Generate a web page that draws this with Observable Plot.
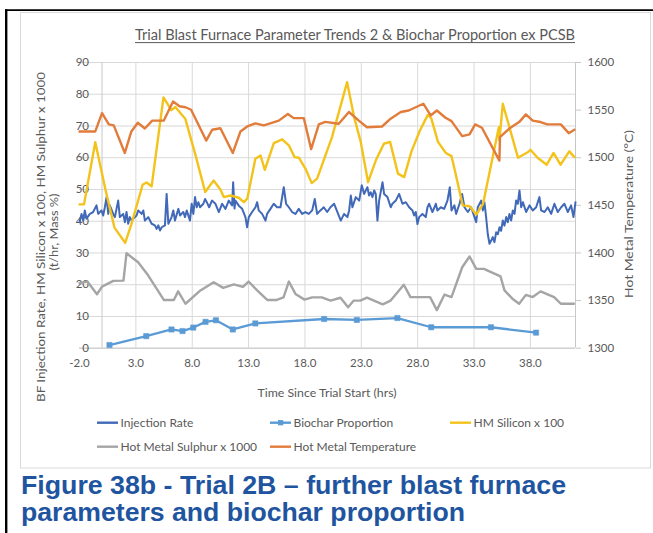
<!DOCTYPE html>
<html>
<head>
<meta charset="utf-8">
<script src="https://cdn.jsdelivr.net/npm/d3@7"></script>
<script src="https://cdn.jsdelivr.net/npm/@observablehq/plot@0.6"></script>
<style>
  html, body { margin: 0; padding: 0; background: #fff; }
  #page { position: relative; width: 653px; height: 533px; overflow: hidden; }
  #page svg { position: absolute; left: 0; top: 0; }
</style>
</head>
<body>
<div id="page"></div>
<script>
// ---- tick values ----
const rateTicks = [0, 10, 20, 30, 40, 50, 60, 70, 80, 90];
const tempTicks = [1300, 1350, 1400, 1450, 1500, 1550, 1600];
const timeTicks = [-2, 3, 8, 13, 18, 23, 28, 33, 38];

// ---- series: [hours since trial start, value] ----
const injectionRate = [
  [-2,39.7],[-1.82,42.3],[-1.67,40.2],[-1.53,43.4],[-1.38,40.8],[-1.08,42.3],[-0.79,42.9],[-0.49,45.0],[-0.34,42.3],[-0.05,43.4],
  [0.10,41.8],[0.25,44.4],[0.40,47.6],[0.55,42.3],[0.69,45.0],[0.99,42.3],[1.14,41.3],[1.43,46.5],[1.58,41.3],[1.88,42.3],
  [2.03,39.7],[2.17,42.9],[2.32,39.2],[2.47,41.3],[2.62,40.2],[2.77,40.8],[3.06,41.8],[3.21,43.4],[3.51,42.3],[3.66,43.4],
  [3.80,40.2],[4.10,41.3],[4.40,39.2],[4.69,38.7],[4.84,37.6],[4.99,38.7],[5.14,37.1],[5.29,38.1],[5.58,38.7],[5.73,48.6],
  [5.88,39.2],[6.17,41.3],[6.32,43.4],[6.47,40.2],[6.77,43.9],[6.92,41.8],[7.21,42.9],[7.36,41.3],[7.51,43.4],[7.80,40.2],
  [7.95,45.5],[8.10,42.3],[8.25,47.6],[8.40,44.4],[8.54,46.0],[8.69,44.4],[8.99,45.5],[9.14,47.0],[9.29,46.0],[9.50,44.4],
  [9.75,46.5],[10.06,45.5],[10.36,42.9],[10.65,45.5],[10.95,43.9],[11.24,46.5],[11.54,45.0],[11.63,52.3],[11.75,44.0],[11.83,46.5],
  [12.13,44.9],[12.43,43.9],[12.72,41.3],[12.87,38.1],[13.02,41.3],[13.31,42.9],[13.61,44.4],[13.76,46.0],[13.90,43.4],[14.20,42.3],
  [14.50,40.2],[14.64,42.3],[14.94,43.9],[15.23,45.5],[15.53,44.4],[15.83,44.4],[16.12,50.7],[16.33,45.5],[16.57,44.4],[16.86,42.9],
  [17.16,42.3],[17.45,43.9],[17.75,42.3],[18.04,42.9],[18.34,42.3],[18.64,43.4],[18.87,47.0],[19.08,42.3],[19.37,43.4],[19.67,44.4],
  [19.97,42.9],[20.26,44.4],[20.59,45.5],[20.88,42.9],[21.18,40.2],[21.47,42.3],[21.77,41.3],[21.92,43.4],[22.07,48.1],[22.21,44.4],
  [22.51,47.6],[22.81,46.5],[23.04,51.3],[23.25,48.6],[23.40,49.7],[23.54,50.7],[23.69,48.1],[23.84,49.1],[23.99,47.6],[24.14,49.7],
  [24.28,48.6],[24.43,40.2],[24.58,46.5],[24.88,52.3],[25.02,48.6],[25.32,47.6],[25.61,44.4],[25.76,45.5],[26.06,46.5],[26.35,48.6],
  [26.65,45.5],[26.95,46.0],[27.24,44.4],[27.54,43.4],[27.68,41.8],[27.83,42.9],[27.98,39.1],[28.13,41.3],[28.42,42.3],[28.72,41.3],
  [28.87,44.4],[29.02,45.5],[29.31,42.9],[29.61,45.5],[29.75,43.4],[30.05,44.4],[30.35,43.9],[30.64,46.5],[30.85,50.7],[31.00,43.4],
  [31.26,45.0],[31.41,42.3],[31.71,45.5],[31.94,48.6],[32.15,44.4],[32.45,42.9],[32.74,44.4],[33.04,41.3],[33.19,39.7],[33.33,44.4],
  [33.63,46.5],[33.78,43.4],[33.92,46.0],[34.07,41.3],[34.22,35.9],[34.37,32.9],[34.52,33.9],[34.66,35.0],[34.81,33.4],[34.96,36.5],
  [35.11,35.9],[35.26,38.1],[35.40,37.0],[35.55,40.2],[35.70,38.6],[35.85,41.3],[35.99,39.7],[36.14,42.3],[36.29,40.2],[36.44,43.4],
  [36.59,42.3],[36.73,46.5],[36.88,45.5],[37.03,49.7],[37.18,44.4],[37.33,46.0],[37.62,42.9],[37.92,45.0],[38.21,43.4],[38.51,44.4],
  [38.80,47.6],[38.95,43.4],[39.25,42.9],[39.54,44.4],[39.84,42.3],[40.13,45.5],[40.43,42.9],[40.73,44.4],[41.02,45.5],[41.32,42.9],
  [41.61,45.0],[41.82,41.3],[42.00,46.0]
];

const biocharProportion = [
  [0.66,1.0],[3.92,3.8],[6.16,5.9],[7.14,5.4],[8.09,6.5],[9.18,8.3],[10.1,8.8],[11.6,5.9],
  [13.6,7.8],[19.7,9.2],[22.6,8.9],[26.2,9.5],[29.2,6.6],[34.5,6.6],[38.5,4.9]
];

const hmSilicon = [
  [-2,45.3],[-1.6,45.3],[-0.6,64.9],[0.3,50.0],[1.1,38.0],[2.05,33.2],[2.6,39.0],[3.6,51.5],[3.95,52.2],[4.4,51.0],
  [5.45,79.0],[6.15,75.0],[6.5,76.0],[7.38,72.3],[8.26,61.2],[9.15,49.2],[9.89,52.8],[10.5,50.0],[10.8,47.6],[11.4,48.1],
  [12.13,47.4],[12.58,46.0],[12.88,47.1],[13.6,59.7],[14.06,60.7],[14.44,56.2],[15.24,64.6],[15.98,65.8],[16.57,63.9],[17.07,60.2],
  [17.46,60.0],[18.05,56.5],[18.6,52.0],[19.08,53.4],[20.4,66.5],[21.74,83.8],[22.36,72.8],[22.95,65.0],[23.6,52.3],[24.28,59.1],
  [25.0,64.4],[25.55,65.0],[26.25,55.0],[26.8,53.9],[27.45,62.0],[28.2,68.6],[28.9,73.5],[29.2,72.5],[29.8,65.0],[30.5,61.5],
  [31.0,60.5],[31.3,56.0],[31.8,48.0],[32.0,45.0],[32.6,44.7],[33.2,42.1],[33.8,45.5],[35.2,69.6],[35.25,65.5],[35.55,77.0],
  [36.9,60.0],[37.8,61.8],[38.0,62.5],[38.66,59.9],[39.45,57.8],[40.05,61.5],[40.67,57.8],[41.45,62.0],[41.9,60.2]
];

const hmSulphur = [
  [-2,20.5],[-1.3,21.0],[-0.45,17.0],[0.0,19.4],[1.0,21.2],[1.9,21.3],[2.17,29.9],[3.2,27.1],[4.0,23.4],[5.48,15.2],
  [6.37,15.2],[6.75,17.9],[7.4,14.0],[8.73,18.2],[9.9,20.8],[10.75,19.0],[11.69,20.1],[12.5,19.3],[13.0,21.0],[13.76,18.2],
  [14.65,15.2],[15.5,15.2],[16.1,16.0],[16.57,21.0],[17.16,17.1],[17.96,15.3],[18.64,16.0],[19.5,16.0],[20.27,15.0],[21.15,15.9],
  [21.83,12.9],[22.33,15.0],[22.9,15.0],[23.5,15.9],[24.9,13.8],[25.6,15.0],[26.77,20.0],[27.36,16.1],[29.1,16.1],[29.7,12.0],
  [30.38,16.9],[31.0,16.1],[31.95,25.5],[32.6,28.9],[33.2,25.0],[33.87,25.0],[35.35,22.6],[35.7,18.2],[36.4,15.6],[37.0,14.0],
  [37.6,16.8],[38.2,16.1],[38.9,17.9],[40.1,16.1],[40.7,14.0],[41.85,14.0]
];

const hmTemperature = [
  [-2,1527.6],[-0.6,1527.6],[0.0,1546.8],[0.6,1535],[1.04,1534],[2.02,1505],[2.6,1527.6],[3.17,1536.7],[3.8,1530.7],[4.45,1539],
  [5.48,1539],[6.3,1559],[6.87,1554],[7.4,1553],[7.9,1550.4],[9.24,1518],[9.77,1529.4],[10.5,1531],[11.6,1505],[12.28,1527.6],
  [12.88,1532.8],[13.6,1536],[14.35,1534],[15.68,1539],[16.48,1546],[17.0,1541.6],[17.9,1541.6],[18.55,1509],[19.23,1535],[19.8,1537.7],
  [21.0,1535.7],[21.9,1548],[22.78,1539],[23.5,1532],[24.84,1532.8],[25.6,1541],[26.5,1548],[27.2,1549.6],[28.5,1556.7],[29.15,1544.4],
  [29.7,1549.6],[30.47,1542],[31.0,1538.4],[31.95,1522.7],[32.6,1524.5],[33.1,1535],[33.7,1531.5],[35.25,1497],[35.3,1521.6],[36.1,1530.4],
  [37.0,1537.4],[37.6,1545.5],[38.2,1539],[38.9,1537.5],[39.5,1535],[40.7,1535],[41.4,1525.8],[41.9,1529.4]
];

// ---- secondary axis: temperature 1300–1600 °C shares the 0–90 primary scale ----
const tempMin = 1300, tempMax = 1600;
const toPrimary = t => (t - tempMin) / (tempMax - tempMin) * 90;

const colors = {
  injection: "#4169b8",
  biochar: "#5b9bd5",
  silicon: "#f3c31c",
  sulphur: "#a5a5a5",
  temperature: "#e27c3a"
};

const fontFamily = "Lato, 'Open Sans', sans-serif";
const textGrey = "#595959";
const gridGrey = "#d9d9d9";

const chart = Plot.plot({
  width: 653,
  height: 533,
  marginLeft: 79,
  marginRight: 78,
  marginTop: 62,
  marginBottom: 185.3,
  style: { fontFamily, background: "transparent" },
  x: { domain: [-2, 42], axis: null },
  y: { domain: [0, 90], axis: null },
  marks: [
    // gridlines
    Plot.ruleY(rateTicks, { stroke: gridGrey, strokeWidth: 1 }),
    Plot.ruleX(timeTicks.filter(t => t > 0), { stroke: gridGrey, strokeWidth: 1 }),
    // primary axis at time zero, bottom axis, secondary axis at right
    Plot.ruleX([0], { stroke: "#c8c8c8", strokeWidth: 1 }),
    Plot.ruleY([0], { stroke: "#c8c8c8", strokeWidth: 1 }),
    Plot.axisY({
      anchor: "right",
      ticks: tempTicks.map(toPrimary),
      tickSize: 5,
      tickFormat: () => "",
      label: null,
      stroke: "#c8c8c8"
    }),
    Plot.ruleX([42], { stroke: "#c8c8c8", strokeWidth: 1 }),

    // tick labels
    Plot.text(rateTicks, {
      y: d => d, text: d => String(d), frameAnchor: "left", textAnchor: "end",
      dx: 9.5, fill: textGrey, fontSize: 11.5
    }),
    Plot.text(tempTicks, {
      y: d => toPrimary(d), text: d => String(d), frameAnchor: "right", textAnchor: "start",
      dx: 12, fill: textGrey, fontSize: 11.5
    }),
    Plot.text(timeTicks, {
      x: d => d, text: d => d.toFixed(1), frameAnchor: "bottom", dy: 19,
      fill: textGrey, fontSize: 11.5
    }),

    // series
    Plot.line(injectionRate, { x: d => d[0], y: d => d[1], stroke: colors.injection, strokeWidth: 2 }),
    Plot.line(biocharProportion, { x: d => d[0], y: d => d[1], stroke: colors.biochar, strokeWidth: 2.3 }),
    Plot.dot(biocharProportion, { x: d => d[0], y: d => d[1], symbol: "square", r: 3, fill: colors.biochar, stroke: colors.biochar, strokeWidth: 0.5 }),
    Plot.line(hmSilicon, { x: d => d[0], y: d => d[1], stroke: colors.silicon, strokeWidth: 2.4, strokeLinejoin: "round" }),
    Plot.line(hmSulphur, { x: d => d[0], y: d => d[1], stroke: colors.sulphur, strokeWidth: 2.4, strokeLinejoin: "round" }),
    Plot.line(hmTemperature, { x: d => d[0], y: d => toPrimary(d[1]), stroke: colors.temperature, strokeWidth: 2.4, strokeLinejoin: "round" })
  ]
});

document.getElementById("page").appendChild(chart);

// ---- frame, titles, legend and caption ----
const svg = d3.select(chart);
const deco = svg.append("g");

// page frame lines
deco.append("line").attr("x1", 5).attr("x2", 653).attr("y1", 10.2).attr("y2", 10.2)
  .attr("stroke", "#000").attr("stroke-width", 1.8);
deco.append("line").attr("x1", 6.2).attr("x2", 6.2).attr("y1", 9.3).attr("y2", 533)
  .attr("stroke", "#000").attr("stroke-width", 2.4);
// chart area border
deco.append("rect").attr("x", 20.5).attr("y", 12.5).attr("width", 630).attr("height", 455.5)
  .attr("fill", "none").attr("stroke", "#d9d9d9").attr("stroke-width", 1);

const label = (x, y, text, opts = {}) => {
  const t = deco.append("text")
    .attr("x", x).attr("y", y)
    .attr("fill", opts.fill || textGrey)
    .attr("font-family", opts.family || fontFamily)
    .attr("font-size", opts.size || 12)
    .attr("font-weight", opts.weight || "normal")
    .attr("text-anchor", opts.anchor || "start")
    .text(text);
  if (opts.length) t.attr("textLength", opts.length).attr("lengthAdjust", "spacingAndGlyphs");
  if (opts.rotate) t.attr("transform", `rotate(${opts.rotate},${x},${y})`);
  return t;
};

// chart title (underlined)
label(355, 40, "Trial Blast Furnace Parameter Trends 2 & Biochar Proportion ex PCSB",
  { size: 14.5, anchor: "middle", length: 440 });
deco.append("line").attr("x1", 135).attr("x2", 575).attr("y1", 42.6).attr("y2", 42.6)
  .attr("stroke", textGrey).attr("stroke-width", 1);

// axis titles
label(44.5, 237, "BF Injection Rate, HM Silicon x 100, HM Sulphur x 1000",
  { size: 12, anchor: "middle", length: 330, rotate: -90 });
label(57.5, 232, "(t/hr, Mass %)", { size: 12, anchor: "middle", length: 77, rotate: -90 });
label(633.3, 214, "Hot Metal Temperature (°C)", { size: 12, anchor: "middle", length: 168, rotate: -90 });
label(327, 396.5, "Time Since Trial Start (hrs)", { size: 12, anchor: "middle", length: 139 });

// legend
const legendItems = [
  { name: "Injection Rate", color: colors.injection, x: 97, y: 422.7 },
  { name: "Biochar Proportion", color: colors.biochar, x: 270, y: 422.7, marker: true },
  { name: "HM Silicon x 100", color: colors.silicon, x: 450, y: 422.7 },
  { name: "Hot Metal Sulphur x 1000", color: colors.sulphur, x: 97, y: 446.7 },
  { name: "Hot Metal Temperature", color: colors.temperature, x: 270, y: 446.7 }
];
for (const item of legendItems) {
  deco.append("line").attr("x1", item.x).attr("x2", item.x + 21)
    .attr("y1", item.y).attr("y2", item.y)
    .attr("stroke", item.color).attr("stroke-width", 2.4);
  if (item.marker) {
    deco.append("rect").attr("x", item.x + 8).attr("y", item.y - 2.6)
      .attr("width", 5.2).attr("height", 5.2).attr("fill", item.color);
  }
  label(item.x + 23.5, item.y + 4.3, item.name, { size: 12 });
}

// figure caption
const captionBlue = "#1f55a0";
const captionFont = "'Liberation Sans', Arial, sans-serif";
label(21, 494, "Figure 38b - Trial 2B \u2013 further blast furnace",
  { size: 25, weight: "bold", fill: captionBlue, family: captionFont, length: 545 });
label(21, 521, "parameters and biochar proportion",
  { size: 25, weight: "bold", fill: captionBlue, family: captionFont, length: 444 });
</script>
</body>
</html>
